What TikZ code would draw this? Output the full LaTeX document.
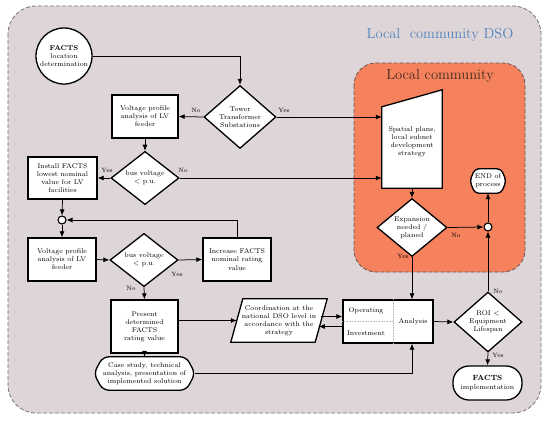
\documentclass[tikz,border=0pt]{standalone}
\usetikzlibrary{shapes.geometric,arrows.meta,calc}
\definecolor{outerfill}{RGB}{221,213,215}
\definecolor{outerline}{RGB}{120,115,118}
\definecolor{coral}{RGB}{245,130,92}
\definecolor{coralline}{RGB}{105,85,80}
\definecolor{dsoblue}{RGB}{79,129,189}
\definecolor{lctext}{RGB}{60,40,30}
\begin{document}
\begin{tikzpicture}[x=1pt,y=-1pt,
  txt/.style={font=\fontsize{6.9}{8.1}\selectfont, align=center, inner sep=1pt},
  box/.style={txt, draw, line width=1.3pt, fill=white},
  dia/.style={txt, draw, line width=1.3pt, fill=white, diamond, inner sep=0pt},
  conn/.style={line width=0.75pt, -{Latex[length=6pt,width=5pt]}},
  lbl/.style={font=\fontsize{6.2}{7}\selectfont, inner sep=1pt},
  junc/.style={circle, draw, line width=1.1pt, fill=white, minimum size=8pt, inner sep=0pt},
  shapeline/.style={draw, line width=1.3pt, fill=white},
  region/.style={dash pattern=on 4pt off 2pt, line width=0.8pt}]
\useasboundingbox (0,0) rectangle (550,421);
\fill[white] (0,0) rectangle (550,421);
% regions
\draw[region, draw=outerline, fill=outerfill, rounded corners=28pt] (8,6) rectangle (541,413);
\draw[region, draw=coralline, fill=coral, rounded corners=22pt] (354,63) rectangle (525,272);
\node[text=dsoblue, font=\fontsize{14.5}{16}\selectfont, inner sep=0pt] (t1) at (440,35) {Local\ \ community DSO};
\node[text=lctext, font=\fontsize{14.5}{16}\selectfont, inner sep=0pt] (t2) at (440,76) {Local community};

% nodes
\node[circle, draw, line width=1.3pt, fill=white, minimum size=56pt, txt] (facts) at (64,56) {\textbf{FACTS}\\location\\determination};
\node[dia, minimum width=72pt, minimum height=52pt] (tower) at (240,117) {Tower\\Transformer\\Substations};
\node[box, minimum width=66pt, minimum height=43pt] (vp1) at (145,116.5) {Voltage profile\\analysis of LV\\feeder};
\node[dia, minimum width=68pt, minimum height=51pt] (bv1) at (145,178) {bus voltage\\\textless{} p.u.};
\node[box, minimum width=69pt, minimum height=42pt] (inst) at (62.5,178) {Install FACTS\\lowest nominal\\value for LV\\facilities};
\node[junc] (j1) at (62,220) {};
\node[box, minimum width=68pt, minimum height=43pt] (vp2) at (62,259.5) {Voltage profile\\analysis of LV\\feeder};
\node[dia, minimum width=68pt, minimum height=51pt] (bv2) at (144,260) {bus voltage\\\textless{} p.u.};
\node[box, minimum width=68pt, minimum height=43pt] (inc) at (237,259.5) {Increase FACTS\\nominal rating\\value};
\node[box, minimum width=67pt, minimum height=53pt] (pres) at (144.5,326.5) {Present\\determined\\FACTS\\rating value};

% coordination parallelogram
\node[txt, minimum width=84pt, minimum height=43pt] (coord) at (279,320.5) {};
\draw[shapeline] ($(coord.north west)+(6,0)$) -- ($(coord.north east)+(6,0)$) -- ($(coord.south east)+(-6,0)$) -- ($(coord.south west)+(-6,0)$) -- cycle;
\node[txt] (coordt) at (coord) {Coordination at the\\national DSO level in\\accordance with the\\strategy};

% analysis
\node[draw, line width=1.3pt, fill=white, minimum width=90pt, minimum height=43pt] (ana) at (388,321.5) {};
\draw[densely dotted, gray!55, line width=0.6pt] ($(ana.north)+(5,0)$) -- ($(ana.south)+(5,0)$);
\draw[densely dotted, gray!55, line width=0.6pt] (ana.west) -- ($(ana.center)+(5,0)$);
\node[txt] (op) at (366,311) {Operating};
\node[txt] (inv) at (366,333) {Investment};
\node[txt] (anl) at (413,322) {Analysis};

% case study
\node[txt, minimum width=101pt, minimum height=33pt] (cs) at (144.5,373.5) {};
\draw[shapeline, rounded corners=6pt] ($(cs.north west)+(9,0)$) -- ($(cs.north east)+(-9,0)$) -- (cs.east) -- ($(cs.south east)+(-9,0)$) -- ($(cs.south west)+(9,0)$) -- (cs.west) -- cycle;
\node[txt] (cst) at (cs) {Case study, technical\\analysis, presentation of\\implemented solution};

% spatial plans trapezoid
\node[txt, minimum width=60pt, minimum height=98pt] (sp) at (412,139) {};
\draw[shapeline] (sp.south west) -- ($(sp.north west)+(0,17)$) -- (sp.north east) -- (sp.south east) -- cycle;
\node[txt] (spt) at (412,142) {Spatial plans,\\local subnet\\development\\strategy};

\node[dia, minimum width=70pt, minimum height=51pt] (exp) at (412,227.5) {Expansion\\needed /\\planed};
\node[junc] (j2) at (488,227) {};

% end of process
\node[txt, minimum width=36pt, minimum height=24pt] (end) at (488,181) {};
\draw[shapeline, rounded corners=4pt] ($(end.north west)+(5,0)$) -- ($(end.north east)+(-5,0)$) -- (end.east) -- ($(end.south east)+(-5,0)$) -- ($(end.south west)+(5,0)$) -- (end.west) -- cycle;
\node[txt] (endt) at (end) {END of\\process};

\node[dia, minimum width=68pt, minimum height=50pt] (roi) at (488,322) {ROI \textless\\Equipment\\Lifespan};
\node[box, rounded corners=16pt, minimum width=69pt, minimum height=34pt] (impl) at (487.5,383) {{\fontsize{7.5}{9}\selectfont\textbf{FACTS}}\\implementation};

% connectors
\draw[conn] (facts.east) -| (tower.north);
\draw[conn] (tower.west) -- (vp1.east);
\node[lbl] (l1) at (196,110) {No};
\draw[conn] (tower.east) -- (tower.east -| sp.west);
\node[lbl] (l2) at (284,110) {Yes};
\draw[conn] (vp1.south) -- (bv1.north);
\draw[conn] (bv1.west) -- (inst.east);
\node[lbl] (l3) at (107,170) {Yes};
\draw[conn] (bv1.east) -- (bv1.east -| sp.west);
\node[lbl] (l4) at (183,170) {No};
\draw[conn] (inst.south) -- (j1.north);
\draw[conn] (j1.south) -- (vp2.north);
\draw[conn] (inc.north) |- (j1.east);
\draw[conn] (vp2.east) -- (bv2.west);
\draw[conn] (bv2.east) -- (inc.west);
\node[lbl] (l5) at (177,274) {Yes};
\draw[conn] (bv2.south) -- (pres.north);
\node[lbl] (l6) at (131,288) {No};
\draw[conn] (pres.east |- coord.west) -- (coord.west);
\draw[conn] ($(ana.west)+(-21,-5)$) -- ($(ana.west)+(0,-5)$);
\draw[conn] ($(ana.west)+(0,5)$) -- ($(ana.west)+(-23.5,5)$);
\draw[conn] (pres.south) -- (cs.north);
\draw[conn] (cs.east) -| (ana.south -| exp.south);
\draw[conn] (sp.south) -- (exp.north);
\draw[conn] (exp.south) -- (exp.south |- ana.north);
\node[lbl] (l7) at (403,256) {Yes};
\draw[conn] (exp.east) -- (j2.west);
\node[lbl] (l8) at (456,235) {No};
\draw[conn] (j2.north) -- (end.south);
\draw[conn] (ana.east) -- (roi.west);
\draw[conn] (roi.north) -- (j2.south);
\node[lbl] (l9) at (498,291) {No};
\draw[conn] (roi.south) -- (impl.north);
\node[lbl] (l10) at (498,355) {Yes};
\end{tikzpicture}
\end{document}
